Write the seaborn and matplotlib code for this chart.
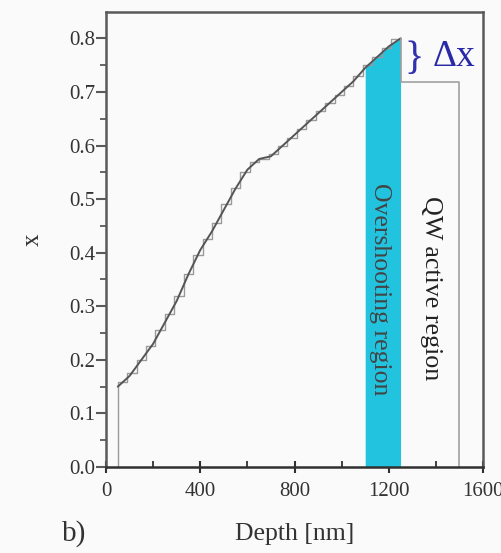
import numpy as np
import pandas as pd
import matplotlib
matplotlib.use("Agg")
import matplotlib.pyplot as plt
import seaborn as sns

# Graded composition profile: smooth target and digital (stepped) realisation
depth_smooth = [50, 100, 150, 200, 250, 300, 350, 400, 450, 500, 550, 600, 650,
                700, 750, 800, 850, 900, 950, 1000, 1050, 1100, 1150, 1200, 1250]
x_smooth = [0.150, 0.170, 0.200, 0.230, 0.270, 0.310, 0.360, 0.405, 0.440, 0.480,
            0.520, 0.555, 0.575, 0.580, 0.600, 0.620, 0.640, 0.660, 0.680, 0.700,
            0.720, 0.745, 0.765, 0.785, 0.800]

step_edges = [50, 90, 130, 170, 210, 250, 290, 330, 370, 410, 450, 490, 530, 570,
              610, 650, 690, 730, 770, 810, 850, 890, 930, 970, 1010, 1050, 1090,
              1130, 1170, 1210, 1250]
step_values = [0.158, 0.176, 0.200, 0.225, 0.255, 0.285, 0.320, 0.360, 0.395, 0.425,
               0.455, 0.490, 0.520, 0.550, 0.570, 0.575, 0.585, 0.600, 0.615, 0.630,
               0.648, 0.665, 0.680, 0.695, 0.712, 0.730, 0.750, 0.765, 0.783, 0.798]

# Quantum-well active region (constant composition) and the overshoot window
qw_depth = [1250, 1250, 1500, 1500]
qw_x = [0.800, 0.718, 0.718, 0.0]
overshoot_start, overshoot_end = 1100, 1250

sns.set_theme(style="ticks")
plt.rcParams["font.family"] = ["Liberation Serif", "DejaVu Serif"]
bg = "#fafafa"
fig = plt.figure(figsize=(5.01, 5.53), dpi=100, facecolor=bg)
ax = fig.add_axes([0.2116, 0.1555, 0.7525, 0.8225], facecolor=bg)

# stepped profile incl. the vertical rise from zero
stair = pd.DataFrame({
    "depth": [step_edges[0]] + step_edges,
    "x": [0.0] + step_values + [step_values[-1]],
})
sns.lineplot(data=stair, x="depth", y="x", ax=ax, color="#9a9a9a", lw=1.0,
             drawstyle="steps-post", estimator=None, sort=False)

smooth = pd.DataFrame({"depth": depth_smooth, "x": x_smooth})
sns.lineplot(data=smooth, x="depth", y="x", ax=ax, color="#555555", lw=1.4,
             estimator=None, sort=False)

# overshooting band filled up to the profile
ds = np.array(depth_smooth)
xs = np.array(x_smooth)
m = (ds >= overshoot_start) & (ds <= overshoot_end)
ax.fill_between(ds[m], 0, xs[m], color="#22c3df", lw=0, zorder=1)

qw = pd.DataFrame({"depth": qw_depth, "x": qw_x})
sns.lineplot(data=qw, x="depth", y="x", ax=ax, color="#a0a0a0", lw=1.2,
             estimator=None, sort=False)

ax.set_xlim(0, 1600)
ax.set_ylim(0, 0.849)
ax.set_xticks([0, 400, 800, 1200, 1600])
ax.set_xticks([200, 600, 1000, 1400], minor=True)
ax.set_yticks(np.round(np.arange(0, 0.81, 0.1), 1))
ax.set_yticks(np.round(np.arange(0.05, 0.85, 0.1), 2), minor=True)
ax.set_yticklabels([f"{v:.1f}" for v in np.arange(0, 0.81, 0.1)])

for s in ax.spines.values():
    s.set_color("#5a5a5a")
    s.set_linewidth(1.8)
ax.spines["bottom"].set_color("#303030")
ax.tick_params(axis="y", which="major", direction="out", length=7, width=1.5,
               color="#5a5a5a", labelsize=15, pad=1, labelcolor="#333333")
ax.tick_params(axis="y", which="minor", direction="out", length=4, width=1.3,
               color="#5a5a5a")
ax.tick_params(axis="x", which="major", direction="inout", length=9, width=1.5,
               color="#303030", labelsize=15, pad=6, labelcolor="#333333")
ax.tick_params(axis="x", which="minor", direction="in", length=4, width=1.3,
               color="#303030")

ax.set_xlabel("Depth [nm]", fontsize=18.5, color="#333333", labelpad=16)
ax.set_ylabel("x", fontsize=18, color="#333333", labelpad=18)

ax.text(1162, 0.331, "Overshooting region", rotation=-90, ha="center",
        va="center", fontsize=18.5, color="#444444")
ax.text(1379, 0.333, "QW active region", rotation=-90, ha="center",
        va="center", fontsize=18.7, color="#222222")
ax.text(1265, 0.76, "}", fontsize=29, color="#3030b0", ha="left", va="center")
ax.text(1385, 0.765, "Δx", fontsize=27, color="#2a2aa8", ha="left",
        va="center")
fig.text(0.124, 0.022, "b)", fontsize=21, color="#333333")

fig.savefig("out.png", dpi=100, facecolor=bg)
